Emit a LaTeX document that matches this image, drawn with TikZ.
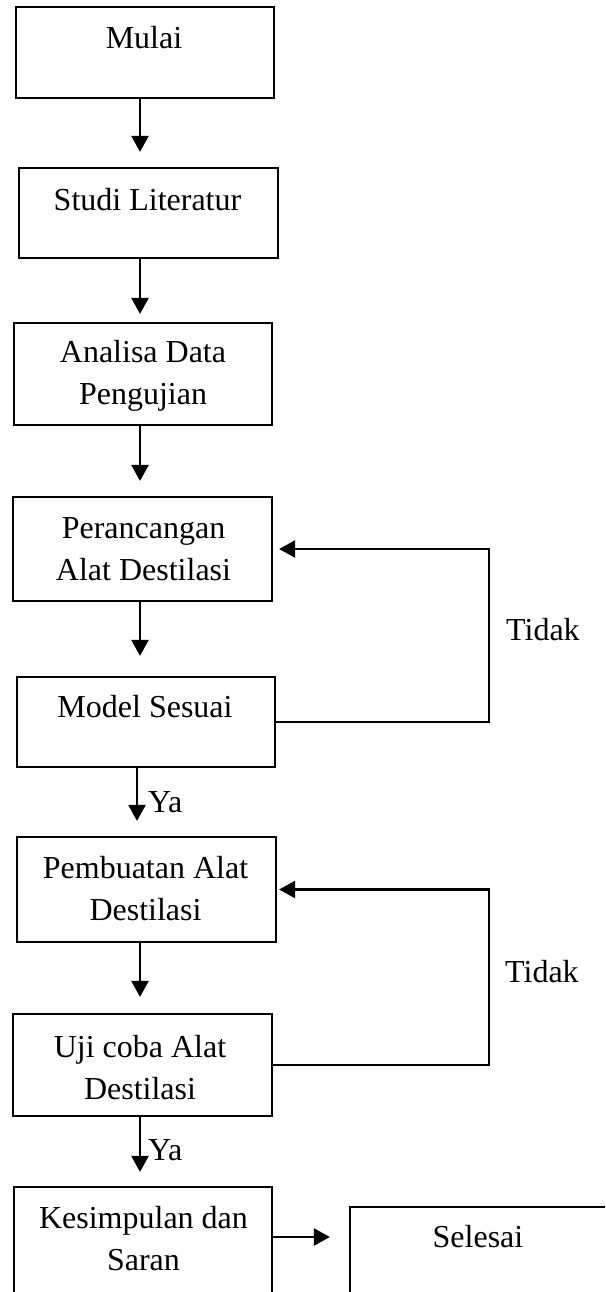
\documentclass[tikz,border=0pt]{standalone}
\usepackage{fontspec}
\setmainfont{Liberation Serif}
\usetikzlibrary{arrows.meta}
\begin{document}
\begin{tikzpicture}[x=1pt,y=-1pt,
  box/.style={draw, line width=2.2pt, inner sep=0pt},
  lbl/.style={font=\fontsize{32}{42}\selectfont, align=center, inner sep=0pt},
  arr/.style={line width=2.4pt, -{Triangle[length=16pt,width=17pt]}}]
\useasboundingbox (0,0) rectangle (605,1292);
\clip (0,0) rectangle (605,1292);
% boxes
\node[box, minimum width=258pt, minimum height=91pt]  (b1) at (145,52.5) {};
\node[box, minimum width=259pt, minimum height=90pt]  (b2) at (148.5,213) {};
\node[box, minimum width=258pt, minimum height=102pt] (b3) at (143,374) {};
\node[box, minimum width=259pt, minimum height=104pt] (b4) at (142.5,549) {};
\node[box, minimum width=258pt, minimum height=90pt]  (b5) at (146,722) {};
\node[box, minimum width=259pt, minimum height=105pt] (b6) at (146.5,889.5) {};
\node[box, minimum width=259pt, minimum height=102pt] (b7) at (142.5,1065) {};
\node[box, minimum width=258pt, minimum height=123pt] (b8) at (143,1248.5) {};
\node[box, minimum width=270pt, minimum height=113pt] (b9) at (485,1263.5) {};
% texts
\node[lbl] (t1) at (144,38) {Mulai};
\node[lbl] (t2) at (147.5,200) {Studi Literatur};
\node[lbl] (t3) at (143,376) {Analisa Data\\Pengujian};
\node[lbl] (t4) at (143.5,549) {Perancangan\\Alat Destilasi};
\node[lbl] (t5) at (145,707) {Model Sesuai};
\node[lbl] (t6) at (145.5,889) {Pembuatan Alat\\Destilasi};
\node[lbl] (t7) at (140,1068) {Uji coba Alat\\Destilasi};
\node[lbl] (t8) at (143.5,1239) {Kesimpulan dan\\Saran};
\node[lbl] (t9) at (478,1237) {Selesai};
\node[lbl, anchor=west] (n1) at (506,630) {Tidak};
\node[lbl, anchor=west] (n2) at (505,972) {Tidak};
\node[lbl, anchor=west] (y1) at (148,802) {Ya};
\node[lbl, anchor=west] (y2) at (148,1150) {Ya};
% helper coordinates
\coordinate (c1) at (140,0);
\coordinate (c2) at (137,0);
\coordinate (rail) at (489,0);
\coordinate (r3) at (0,1237);
% arrows
\draw[arr, shorten >=15pt] (b1.south -| c1) -- (b2.north -| c1);
\draw[arr, shorten >=8pt]  (b2.south -| c1) -- (b3.north -| c1);
\draw[arr, shorten >=15pt] (b3.south -| c1) -- (b4.north -| c1);
\draw[arr, shorten >=20pt] (b4.south -| c1) -- (b5.north -| c1);
\draw[arr, shorten >=15pt] (b5.south -| c2) -- (b6.north -| c2);
\draw[arr, shorten >=16pt] (b6.south -| c1) -- (b7.north -| c1);
\draw[arr, shorten >=14pt] (b7.south -| c1) -- (b8.north -| c1);
\draw[arr, shorten >=19pt] (b8.east |- r3) -- (b9.west |- r3);
% loops
\draw[arr, shorten >=6pt] (b5.east) -- (b5.east -| rail) -- (b4.east -| rail) -- (b4.east);
\draw[arr, shorten >=2pt] (b7.east) -- (b7.east -| rail) -- (b6.east -| rail) -- (b6.east);
\end{tikzpicture}
\end{document}
